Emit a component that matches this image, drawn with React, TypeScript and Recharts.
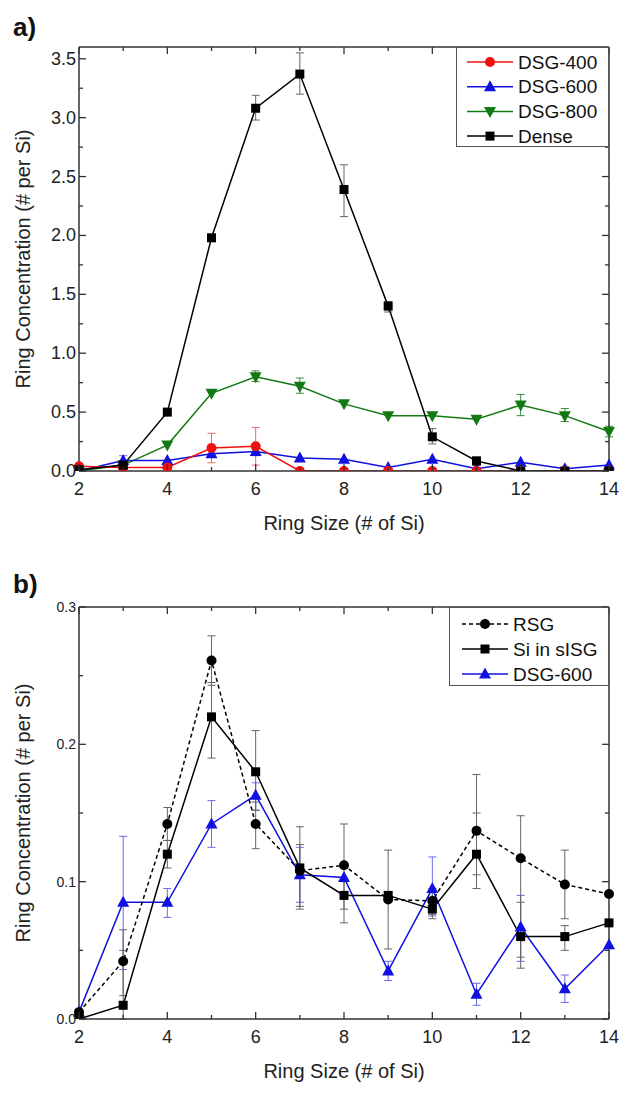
import React from "react";
import { LineChart, Line, XAxis, YAxis, ErrorBar, Legend, Label } from "recharts";

const FONT = "'Liberation Sans', Arial, sans-serif";

const ringSize = [2, 3, 4, 5, 6, 7, 8, 9, 10, 11, 12, 13, 14];
const xMajor = [2, 4, 6, 8, 10, 12, 14];

// panel a
const yMajorA = [0, 0.5, 1.0, 1.5, 2.0, 2.5, 3.0, 3.5];
const yMinorA = [0.25, 0.75, 1.25, 1.75, 2.25, 2.75, 3.25];
const dsg400A = [0.04, 0.03, 0.03, 0.195, 0.21, 0.0, 0.0, 0.0, 0.0, 0.0, 0.0, 0.0, 0.0];
const dsg600A = [0.0, 0.09, 0.09, 0.147, 0.165, 0.11, 0.1, 0.03, 0.1, 0.02, 0.075, 0.02, 0.05];
const dsg800A = [0.0, 0.05, 0.22, 0.66, 0.8, 0.72, 0.57, 0.47, 0.47, 0.44, 0.56, 0.47, 0.335];
const denseA = [0.01, 0.05, 0.5, 1.98, 3.08, 3.37, 2.39, 1.4, 0.29, 0.085, 0.0, 0.0, 0.0];
// [ring size, low, high]
const dsg400AErr = [[5, 0.07, 0.32], [6, 0.05, 0.37]];
const dsg600AErr = [[3, 0.06, 0.13], [6, 0.13, 0.2]];
const dsg800AErr = [[6, 0.76, 0.85], [7, 0.66, 0.79], [12, 0.47, 0.65], [13, 0.42, 0.53], [14, 0.29, 0.38]];
const denseAErr = [[6, 2.98, 3.19], [7, 3.2, 3.55], [8, 2.16, 2.6], [9, 1.35, 1.44], [10, 0.23, 0.36], [11, 0.05, 0.12]];

// panel b
const yMajorB = [0, 0.1, 0.2, 0.3];
const yMinorB = [0.05, 0.15, 0.25];
const rsgB = [0.005, 0.042, 0.142, 0.261, 0.142, 0.108, 0.112, 0.087, 0.086, 0.137, 0.117, 0.098, 0.091];
const sisgB = [0.0, 0.01, 0.12, 0.22, 0.18, 0.11, 0.09, 0.09, 0.08, 0.12, 0.06, 0.06, 0.07];
const dsg600B = [0.005, 0.085, 0.085, 0.142, 0.163, 0.105, 0.103, 0.035, 0.095, 0.018, 0.067, 0.022, 0.054];
const rsgBErr = [[3, 0.017, 0.065], [4, 0.13, 0.154], [5, 0.243, 0.279], [6, 0.124, 0.158], [7, 0.082, 0.14], [8, 0.07, 0.142], [9, 0.051, 0.123], [10, 0.076, 0.095], [11, 0.095, 0.178], [12, 0.037, 0.148], [13, 0.073, 0.123]];
const sisgBErr = [[3, 0.0, 0.05], [4, 0.11, 0.13], [5, 0.19, 0.245], [6, 0.152, 0.21], [7, 0.08, 0.127], [8, 0.08, 0.1], [10, 0.073, 0.088], [11, 0.105, 0.15], [12, 0.045, 0.085], [13, 0.05, 0.068]];
const dsg600BErr = [[3, 0.036, 0.133], [4, 0.074, 0.095], [5, 0.125, 0.159], [6, 0.152, 0.172], [7, 0.085, 0.125], [9, 0.028, 0.042], [10, 0.075, 0.118], [11, 0.01, 0.026], [12, 0.042, 0.09], [13, 0.012, 0.032]];

type Shape = "circle" | "square" | "up" | "down";

interface Series {
  key: string;
  name: string;
  values: number[];
  err: number[][];
  color: string;
  errColor: string;
  shape: Shape;
  size: number;
  dash?: string;
}

const seriesA: Series[] = [
  { key: "dsg800", name: "DSG-800", values: dsg800A, err: dsg800AErr, color: "#137a13", errColor: "#3a8f3a", shape: "down", size: 11 },
  { key: "dsg600", name: "DSG-600", values: dsg600A, err: dsg600AErr, color: "#1010e0", errColor: "#6a6aee", shape: "up", size: 11 },
  { key: "dsg400", name: "DSG-400", values: dsg400A, err: dsg400AErr, color: "#f01010", errColor: "#e86a6a", shape: "circle", size: 10 },
  { key: "dense", name: "Dense", values: denseA, err: denseAErr, color: "#000000", errColor: "#666666", shape: "square", size: 9 },
];
const legendOrderA = ["dsg400", "dsg600", "dsg800", "dense"];

const seriesB: Series[] = [
  { key: "dsg600", name: "DSG-600", values: dsg600B, err: dsg600BErr, color: "#1010e0", errColor: "#6a6aee", shape: "up", size: 11 },
  { key: "rsg", name: "RSG", values: rsgB, err: rsgBErr, color: "#000000", errColor: "#666666", shape: "circle", size: 10, dash: "4 3" },
  { key: "sisg", name: "Si in sISG", values: sisgB, err: sisgBErr, color: "#000000", errColor: "#666666", shape: "square", size: 9 },
];
const legendOrderB = ["rsg", "sisg", "dsg600"];

function buildRows(series: Series[]) {
  return ringSize.map((size, i) => {
    const row: Record<string, any> = { size };
    series.forEach((s) => {
      const v = s.values[i];
      row[s.key] = v;
      const e = s.err.find((r) => r[0] === size);
      if (e) row[s.key + "Err"] = [v - e[1], e[2] - v];
    });
    return row;
  });
}

const Marker = ({ shape, cx, cy, size, color }: { shape: Shape; cx: number; cy: number; size: number; color: string }) => {
  const h = size / 2;
  if (shape === "circle") return <circle cx={cx} cy={cy} r={h} fill={color} />;
  if (shape === "square") return <rect x={cx - h} y={cy - h} width={size} height={size} fill={color} />;
  if (shape === "up")
    return <polygon points={`${cx},${cy - h - 1} ${cx - h - 0.5},${cy + h - 1} ${cx + h + 0.5},${cy + h - 1}`} fill={color} />;
  return <polygon points={`${cx},${cy + h + 1} ${cx - h - 0.5},${cy - h + 1} ${cx + h + 0.5},${cy - h + 1}`} fill={color} />;
};

const makeDot = (s: Series) => (props: any) => {
  const { cx, cy, index } = props;
  if (!Number.isFinite(cx) || !Number.isFinite(cy)) return <g key={`d-${s.key}-${index}`} />;
  return <Marker key={`d-${s.key}-${index}`} shape={s.shape} cx={cx} cy={cy} size={s.size} color={s.color} />;
};

const AXIS = "#333";

// with tickSize=-1 and tickMargin=0 the tick props sit 1px inside the axis line
type Side = "bottom" | "top" | "left" | "right";
const makeTick = (side: Side, majors: number[], fontSize: number, fmt: (v: number) => string) =>
  (props: any) => {
    const { x, y, payload } = props;
    const v = payload.value;
    const major = majors.some((m) => Math.abs(m - v) < 1e-6);
    const len = major ? 7 : 4;
    let line;
    let text = null;
    if (side === "bottom") {
      const ay = y + 1;
      line = <line x1={x} y1={ay} x2={x} y2={ay - len} stroke={AXIS} strokeWidth={1.3} />;
      if (major)
        text = (
          <text x={x} y={ay + 18} textAnchor="middle" dominantBaseline="central" fontSize={fontSize} fill="#222" fontFamily={FONT}>
            {fmt(v)}
          </text>
        );
    } else if (side === "top") {
      const ay = y - 1;
      line = <line x1={x} y1={ay} x2={x} y2={ay + len} stroke={AXIS} strokeWidth={1.3} />;
    } else if (side === "left") {
      const ax = x - 1;
      line = <line x1={ax} y1={y} x2={ax + len} y2={y} stroke={AXIS} strokeWidth={1.3} />;
      if (major)
        text = (
          <text x={ax - 3} y={y} textAnchor="end" dominantBaseline="central" fontSize={fontSize} fill="#222" fontFamily={FONT}>
            {fmt(v)}
          </text>
        );
    } else {
      const ax = x + 1;
      line = <line x1={ax} y1={y} x2={ax - len} y2={y} stroke={AXIS} strokeWidth={1.3} />;
    }
    return (
      <g key={`t-${side}-${v}`}>
        {line}
        {text}
      </g>
    );
  };

const LegendBox = ({ series, order, width, height, rowGap, firstRow, lineX1, lineX2, textX }: any) => (
  <svg width={width} height={height} style={{ display: "block" }}>
    <rect x={0.5} y={0.5} width={width - 1} height={height - 1} fill="#fff" stroke="#555" strokeWidth={1} />
    {order.map((k: string, i: number) => {
      const s = series.find((q: Series) => q.key === k);
      const cy = firstRow + i * rowGap;
      const mid = (lineX1 + lineX2) / 2;
      return (
        <g key={k}>
          <line x1={lineX1} y1={cy} x2={lineX2} y2={cy} stroke={s.color} strokeWidth={1.5} strokeDasharray={s.dash} />
          <Marker shape={s.shape} cx={mid} cy={cy} size={s.size} color={s.color} />
          <text x={textX} y={cy} dominantBaseline="central" fontSize={19} fill="#111" fontFamily={FONT}>
            {s.name}
          </text>
        </g>
      );
    })}
  </svg>
);

interface PanelProps {
  series: Series[];
  order: string[];
  height: number;
  plotTop: number;
  yMax: number;
  yMajor: number[];
  yMinor: number[];
  yFont: number;
  letter: string;
  letterY: number;
  legend: { left: number; top: number; width: number; height: number; rowGap: number; firstRow: number; lineX1: number; lineX2: number; textX: number };
}

const Panel: React.FC<PanelProps> = ({ series, order, height, plotTop, yMax, yMajor, yMinor, yFont, letter, letterY, legend }) => {
  const rows = buildRows(series);
  const yTicks = [...yMajor, ...yMinor].sort((a, b) => a - b);
  const fmtY = (v: number) => v.toFixed(1);
  const fmtX = (v: number) => String(v);
  const axisLine = { stroke: AXIS, strokeWidth: 1.5 };
  return (
    <LineChart width={620} height={height} data={rows} margin={{ top: plotTop - 1, right: 10, left: 0, bottom: 0 }}>
      <XAxis
        xAxisId="b"
        dataKey="size"
        type="number"
        domain={[2, 14]}
        ticks={ringSize}
        interval={0}
        height={74}
        tickSize={-1}
        tickMargin={0}
        tickLine={false}
        axisLine={axisLine}
        tick={makeTick("bottom", xMajor, 18, fmtX)}
      >
        <Label
          content={(p: any) => {
            const vb = p.viewBox;
            return (
              <text x={vb.x + vb.width / 2} y={vb.y + 52} textAnchor="middle" dominantBaseline="central" fontSize={20} fill="#222" fontFamily={FONT}>
                Ring Size (# of Si)
              </text>
            );
          }}
        />
      </XAxis>
      <XAxis
        xAxisId="t"
        orientation="top"
        type="number"
        dataKey="size"
        domain={[2, 14]}
        ticks={ringSize}
        interval={0}
        height={1}
        tickSize={-1}
        tickMargin={0}
        tickLine={false}
        axisLine={axisLine}
        tick={makeTick("top", xMajor, 18, fmtX)}
      />
      <YAxis
        yAxisId="l"
        type="number"
        domain={[0, yMax]}
        allowDataOverflow
        ticks={yTicks}
        interval={0}
        width={79}
        tickSize={-1}
        tickMargin={0}
        tickLine={false}
        axisLine={axisLine}
        tick={makeTick("left", yMajor, yFont, fmtY)}
      >
        <Label
          content={(p: any) => {
            const vb = p.viewBox;
            const cx = 23;
            const cy = vb.y + vb.height / 2;
            return (
              <g>
                <text x={cx} y={cy} transform={`rotate(-90 ${cx} ${cy})`} textAnchor="middle" dominantBaseline="central" fontSize={20} fill="#222" fontFamily={FONT}>
                  Ring Concentration (# per Si)
                </text>
                <text x={13} y={letterY} fontSize={26} fontWeight="bold" fill="#111" fontFamily={FONT}>
                  {letter}
                </text>
              </g>
            );
          }}
        />
      </YAxis>
      <YAxis
        yAxisId="r"
        orientation="right"
        type="number"
        domain={[0, yMax]}
        allowDataOverflow
        ticks={yTicks}
        interval={0}
        width={1}
        tickSize={-1}
        tickMargin={0}
        tickLine={false}
        axisLine={axisLine}
        tick={makeTick("right", yMajor, yFont, fmtY)}
      />
      {series.map((s) => (
        <Line
          key={s.key}
          xAxisId="b"
          yAxisId="l"
          dataKey={s.key}
          name={s.name}
          type="linear"
          stroke={s.color}
          strokeWidth={1.5}
          strokeDasharray={s.dash}
          dot={makeDot(s)}
          activeDot={false}
          isAnimationActive={false}
        >
          <ErrorBar dataKey={s.key + "Err"} width={4} stroke={s.errColor} strokeWidth={1} direction="y" />
        </Line>
      ))}
      <Legend
        layout="horizontal"
        verticalAlign="middle"
        align="center"
        wrapperStyle={{ position: "absolute", left: legend.left, top: legend.top, width: legend.width, height: legend.height, margin: 0, padding: 0 }}
        content={() => <LegendBox series={series} order={order} {...legend} />}
      />
    </LineChart>
  );
};

export default function App() {
  return (
    <div style={{ position: "absolute", left: 0, top: 0, width: 620, height: 1093, background: "#fff" }}>
      <div style={{ position: "absolute", left: 0, top: 0 }}>
        <Panel
          series={seriesA}
          order={legendOrderA}
          height={545}
          plotTop={47}
          yMax={3.6}
          yMajor={yMajorA}
          yMinor={yMinorA}
          yFont={18}
          letter="a)"
          letterY={36}
          legend={{ left: 456, top: 47, width: 153, height: 100, rowGap: 24.7, firstRow: 15, lineX1: 11, lineX2: 57, textX: 62 }}
        />
      </div>
      <div style={{ position: "absolute", left: 0, top: 545 }}>
        <Panel
          series={seriesB}
          order={legendOrderB}
          height={548}
          plotTop={62}
          yMax={0.3}
          yMajor={yMajorB}
          yMinor={yMinorB}
          yFont={14}
          letter="b)"
          letterY={48}
          legend={{ left: 449, top: 62, width: 160, height: 79, rowGap: 25, firstRow: 17, lineX1: 13, lineX2: 59, textX: 64 }}
        />
      </div>
    </div>
  );
}
